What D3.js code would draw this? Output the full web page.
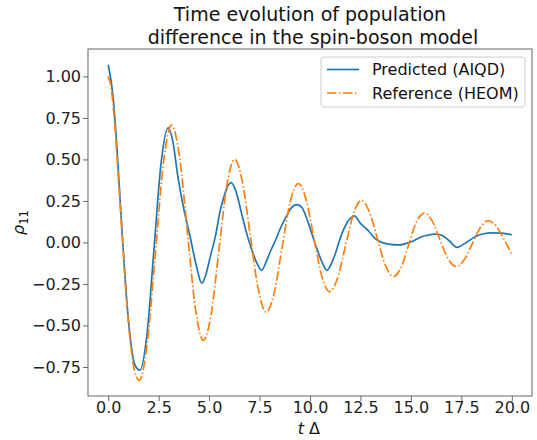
<!DOCTYPE html>
<html>
<head>
<meta charset="utf-8">
<script src="https://cdn.jsdelivr.net/npm/d3@7"></script>
<style>
  html, body { margin: 0; padding: 0; background: #fff; }
  svg { display: block; font-family: "DejaVu Sans", sans-serif; }
</style>
</head>
<body>
<svg id="chart" width="537" height="440"></svg>
<script>
// Population difference rho_11(t) for the spin-boson model
const predT = [0, 0.25, 0.45, 0.7, 0.9, 1.1, 1.3, 1.57, 1.92, 2.27, 2.62, 2.97,
  3.2, 3.45, 3.75, 4.05, 4.35, 4.64, 4.85, 5.05, 5.3, 5.55, 5.8, 5.95, 6.1,
  6.35, 6.62, 6.85, 7.05, 7.37, 7.6, 7.85, 8.05, 8.28, 8.55, 8.8, 9.05, 9.35,
  9.6, 9.85, 10.1, 10.35, 10.6, 10.84, 11.05, 11.25, 11.5, 11.83, 12.2, 12.5,
  12.85, 13.3, 13.9, 14.4, 14.95, 15.45, 15.7, 16.2, 16.55, 16.9, 17.28, 17.7,
  18.2, 18.6, 19.0, 19.5, 20.0];
const predV = [1.07, 0.87, 0.54, 0.04, -0.32, -0.58, -0.73, -0.77, -0.556, -0.04, 0.476, 0.69,
  0.61, 0.40, 0.20, 0.04, -0.13, -0.246, -0.19, -0.09, 0.03, 0.19, 0.30, 0.345, 0.36,
  0.30, 0.17, 0.06, -0.02, -0.125, -0.168, -0.11, -0.05, 0.01, 0.09, 0.15, 0.205, 0.228,
  0.21, 0.14, 0.05, -0.04, -0.12, -0.168, -0.13, -0.07, 0.026, 0.117, 0.16, 0.115,
  0.075, 0.016, -0.01, -0.015, 0.0, 0.03, 0.04, 0.05, 0.042, 0.01, -0.03, -0.004,
  0.036, 0.052, 0.058, 0.056, 0.046];

const refT = [0, 0.15, 0.3, 0.5, 0.7, 0.9, 1.1, 1.3, 1.54, 1.94, 2.34, 2.74, 3.14,
  3.535, 3.93, 4.325, 4.72, 5.105, 5.49, 5.875, 6.26, 6.65, 7.045, 7.44, 7.83,
  8.22, 8.615, 9.01, 9.42, 9.8, 10.19, 10.58, 10.97, 11.36, 11.755, 12.15, 12.54,
  12.94, 13.34, 13.74, 14.14, 14.51, 14.885, 15.26, 15.67, 16.05, 16.44, 16.84,
  17.24, 17.64, 18.045, 18.45, 18.83, 19.25, 19.65, 20.0];
const refV = [1.0, 0.93, 0.75, 0.40, 0.03, -0.33, -0.60, -0.77, -0.83, -0.605, -0.062, 0.481, 0.706,
  0.516, 0.058, -0.40, -0.59, -0.43, -0.045, 0.34, 0.50, 0.365, 0.04, -0.285, -0.42,
  -0.307, -0.033, 0.24, 0.355, 0.26, 0.029, -0.202, -0.297, -0.217, -0.023, 0.171, 0.252,
  0.185, 0.023, -0.139, -0.206, -0.15, -0.015, 0.121, 0.177, 0.13, 0.016, -0.098,
  -0.145, -0.105, -0.007, 0.091, 0.131, 0.095, 0.01, -0.072];

const xTicks = [0, 2.5, 5, 7.5, 10, 12.5, 15, 17.5, 20];
const yTicks = [-0.75, -0.5, -0.25, 0, 0.25, 0.5, 0.75, 1.0];
const seriesNames = ["Predicted (AIQD)", "Reference (HEOM)"];
const titleLines = ["Time evolution of population", " difference in the spin-boson model"];

const svg = d3.select("#chart");
const m = { left: 88, right: 532, top: 49, bottom: 396 };

// 5% padding around the data range on both axes
const xMin = d3.min(predT.concat(refT)), xMax = d3.max(predT.concat(refT));
const yMin = d3.min(predV.concat(refV)), yMax = d3.max(predV.concat(refV));
const xPad = (xMax - xMin) * 0.05, yPad = (yMax - yMin) * 0.05;

const x = d3.scaleLinear().domain([xMin - xPad, xMax + xPad]).range([m.left, m.right]);
const y = d3.scaleLinear().domain([yMin - yPad, yMax + yPad]).range([m.bottom, m.top]);

const minusFmt = f => v => f(v).replace("-", "\u2212");

// axes
const xAxis = d3.axisBottom(x).tickValues(xTicks).tickFormat(minusFmt(d3.format(".1f")))
  .tickSizeInner(5).tickSizeOuter(0).tickPadding(1);
const yAxis = d3.axisLeft(y).tickValues(yTicks).tickFormat(minusFmt(d3.format(".2f")))
  .tickSizeInner(5).tickSizeOuter(0).tickPadding(2);

const gx = svg.append("g").attr("transform", `translate(0,${m.bottom})`).call(xAxis);
const gy = svg.append("g").attr("transform", `translate(${m.left},0)`).call(yAxis);
[gx, gy].forEach(g => {
  g.select(".domain").remove();
  g.selectAll(".tick line").attr("stroke", "#555").attr("stroke-width", 0.9);
  g.selectAll(".tick text").attr("fill", "#222").attr("font-size", 16)
    .attr("font-family", "DejaVu Sans, sans-serif");
});

// frame
svg.append("rect")
  .attr("x", m.left).attr("y", m.top)
  .attr("width", m.right - m.left).attr("height", m.bottom - m.top)
  .attr("fill", "none").attr("stroke", "#555").attr("stroke-width", 0.9);

// series lines
const line = d3.line().x(d => x(d[0])).y(d => y(d[1])).curve(d3.curveMonotoneX);
const predData = predT.map((t, i) => [t, predV[i]]);
const refData = refT.map((t, i) => [t, refV[i]]);

svg.append("path").datum(predData).attr("d", line)
  .attr("fill", "none").attr("stroke", "#1f77b4").attr("stroke-width", 1.7);
svg.append("path").datum(refData).attr("d", line)
  .attr("fill", "none").attr("stroke", "#ff7f0e").attr("stroke-width", 1.7)
  .attr("stroke-dasharray", "9.6,2.4,1.5,2.4");

// title
svg.append("text")
  .attr("x", (m.left + m.right) / 2).attr("text-anchor", "middle")
  .attr("font-size", 19).attr("fill", "#111")
  .selectAll("tspan").data(titleLines).join("tspan")
  .attr("x", (m.left + m.right) / 2)
  .attr("y", (d, i) => 21 + i * 23)
  .style("white-space", "pre")
  .text(d => d);

// axis labels
const xc = (m.left + m.right) / 2;
svg.append("text")
  .attr("x", xc - 6).attr("y", 434)
  .attr("text-anchor", "end").attr("font-size", 16).attr("fill", "#111")
  .attr("font-style", "italic").text("t");
svg.append("text")
  .attr("x", xc - 1).attr("y", 434)
  .attr("text-anchor", "start").attr("font-size", 16).attr("fill", "#111")
  .text("\u0394");

svg.append("text")
  .attr("transform", `translate(24,${(m.top + m.bottom) / 2}) rotate(-90)`)
  .attr("text-anchor", "middle").attr("font-size", 16).attr("fill", "#111")
  .call(t => {
    t.append("tspan").attr("font-style", "italic").text("\u03c1");
    t.append("tspan").attr("font-size", 11.5).attr("dy", 4).text("11");
  });

// legend
const lg = svg.append("g");
lg.append("rect")
  .attr("x", 321).attr("y", 57).attr("width", 204).attr("height", 50)
  .attr("rx", 3).attr("fill", "#fff").attr("fill-opacity", 0.8)
  .attr("stroke", "#ccc").attr("stroke-width", 1);
const colors = ["#1f77b4", "#ff7f0e"];
const dashes = [null, "9.6,2.4,1.5,2.4"];
seriesNames.forEach((name, i) => {
  const yy = 69.5 + i * 23.5;
  lg.append("line").attr("x1", 327).attr("x2", 359).attr("y1", yy).attr("y2", yy)
    .attr("stroke", colors[i]).attr("stroke-width", 1.7)
    .attr("stroke-dasharray", dashes[i]);
  lg.append("text").attr("x", 372).attr("y", yy + 5.5)
    .attr("font-size", 16).attr("fill", "#111").text(name);
});
</script>
</body>
</html>
